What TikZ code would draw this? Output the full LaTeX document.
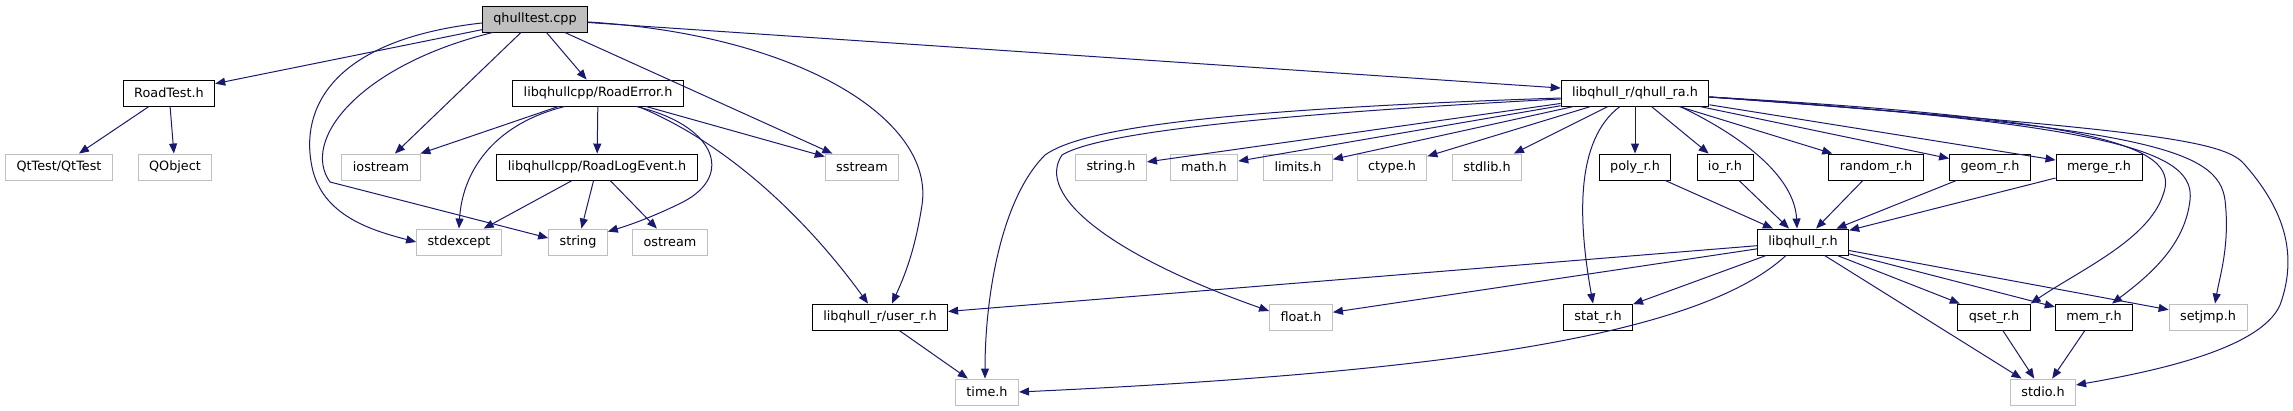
\documentclass[tikz,border=0pt]{standalone}
\usepackage{fontspec}
\setmainfont{DejaVu Sans}
\definecolor{edgeblue}{rgb}{0.098,0.098,0.439}
\definecolor{boxgrey}{rgb}{0.749,0.749,0.749}
\usetikzlibrary{arrows.meta}
\begin{document}
\begin{tikzpicture}[x=1pt,y=-1pt]
  \tikzstyle{file} = [draw=black,line width=0.9pt,fill=white,inner xsep=11pt,inner ysep=0pt,minimum height=26pt,font=\fontsize{12.8}{15}\selectfont]
  \tikzstyle{root} = [file,fill=boxgrey]
  \tikzstyle{sys} = [file,draw=boxgrey]
  \tikzstyle{dep} = [line width=1pt,draw=edgeblue,->,>={Triangle[length=10pt,width=8pt]}]
  \useasboundingbox (0,0) rectangle (2293,411);

  \node[root] (qhulltest) at (535,19) {qhulltest.cpp};
  \node[file] (roadtest) at (169,93) {RoadTest.h};
  \node[file] (roaderror) at (598,93) {libqhullcpp/RoadError.h};
  \node[file] (qhullra) at (1635,93) {libqhull\_r/qhull\_ra.h};
  \node[sys] (qttest) at (59,167) {QtTest/QtTest};
  \node[sys] (qobject) at (175,167) {QObject};
  \node[sys] (iostream) at (381,167) {iostream};
  \node[file] (roadlog) at (597,167) {libqhullcpp/RoadLogEvent.h};
  \node[sys] (sstream) at (862,167) {sstream};
  \node[sys] (stringh) at (1111,167) {string.h};
  \node[sys] (mathh) at (1204,167) {math.h};
  \node[sys] (limitsh) at (1298,167) {limits.h};
  \node[sys] (ctypeh) at (1392,167) {ctype.h};
  \node[sys] (stdlibh) at (1487,167) {stdlib.h};
  \node[file] (polyr) at (1635,167) {poly\_r.h};
  \node[file] (ior) at (1725,167) {io\_r.h};
  \node[file] (randomr) at (1876,167) {random\_r.h};
  \node[file] (geomr) at (1990,167) {geom\_r.h};
  \node[file] (merger) at (2099,167) {merge\_r.h};
  \node[sys] (stdexcept) at (459,242) {stdexcept};
  \node[sys] (string) at (578,242) {string};
  \node[sys] (ostream) at (670,242) {ostream};
  \node[file] (libqhullr) at (1803,242) {libqhull\_r.h};
  \node[file] (userr) at (880,317) {libqhull\_r/user\_r.h};
  \node[sys] (floath) at (1301,317) {float.h};
  \node[file] (statr) at (1598,317) {stat\_r.h};
  \node[file] (qsetr) at (1994,317) {qset\_r.h};
  \node[file] (memr) at (2094,317) {mem\_r.h};
  \node[sys] (setjmph) at (2208,317) {setjmp.h};
  \node[sys] (timeh) at (987,392) {time.h};
  \node[sys] (stdioh) at (2043,392) {stdio.h};

  \draw[dep] (qhulltest) -- (roadtest);
  \draw[dep] (qhulltest) -- (iostream);
  \draw[dep] (qhulltest) -- (roaderror);
  \draw[dep] (qhulltest) -- (sstream);
  \draw[dep] (qhulltest) -- (qhullra);
  \draw[dep] ([yshift=-3pt]qhulltest.east) .. controls (800,35) and (935,120) .. (922,205)
    .. controls (915,250) and (905,275) .. ([xshift=12pt]userr.north);
  \draw[dep] ([yshift=-4pt]qhulltest.west) .. controls (330,40) and (300,110) .. (312,167)
    .. controls (322,215) and (370,230) .. (stdexcept.west);
  \draw[dep] ([xshift=11pt]qhulltest.south west) .. controls (360,65) and (300,140) .. (330,182)
    -- ([yshift=4pt]string.west);

  \draw[dep] (roadtest) -- (qttest);
  \draw[dep] (roadtest) -- (qobject);

  \draw[dep] (roaderror) -- (iostream);
  \draw[dep] (roaderror) -- (roadlog);
  \draw[dep] (roaderror) -- (sstream);
  \draw[dep] ([xshift=-33pt]roaderror.south) .. controls (490,125) and (462,175) .. (stdexcept.north);
  \draw[dep] ([xshift=38pt]roaderror.south) .. controls (715,125) and (735,175) .. (683,202)
    .. controls (655,216) and (630,225) .. ([yshift=-3pt]string.north east);
  \draw[dep] ([xshift=40pt]roaderror.south) .. controls (720,140) and (800,210) .. ([xshift=-12pt]userr.north);

  \draw[dep] (roadlog) -- (stdexcept);
  \draw[dep] (roadlog) -- (string);
  \draw[dep] (roadlog) -- (ostream);

  \draw[dep] (userr) -- (timeh);

  \draw[dep] (qhullra) -- (stringh);
  \draw[dep] (qhullra) -- (mathh);
  \draw[dep] (qhullra) -- (limitsh);
  \draw[dep] (qhullra) -- (ctypeh);
  \draw[dep] (qhullra) -- (stdlibh);
  \draw[dep] (qhullra) -- (polyr);
  \draw[dep] (qhullra) -- (ior);
  \draw[dep] (qhullra) -- (randomr);
  \draw[dep] (qhullra) -- (geomr);
  \draw[dep] (qhullra) -- (merger);
  \draw[dep] ([yshift=-5pt]qhullra.west) .. controls (1200,110) and (1080,130) .. (1045,155)
    .. controls (1000,200) and (985,300) .. ([xshift=-2pt]timeh.north);
  \draw[dep] ([yshift=-6pt]qhullra.west) .. controls (1200,118) and (1090,138) .. (1062,155)
    .. controls (1035,195) and (1110,255) .. ([yshift=6pt]floath.west);
  \draw[dep] ([xshift=45pt]qhullra.south) .. controls (1760,145) and (1795,185) .. ([xshift=-6pt]libqhullr.north);
  \draw[dep] ([xshift=-15pt]qhullra.south) .. controls (1575,140) and (1578,220) .. ([xshift=-5pt]statr.north);
  \draw[dep] ([yshift=-4pt]qhullra.east) .. controls (2120,120) and (2180,150) .. (2163,195)
    .. controls (2148,240) and (2080,270) .. (qsetr.north east);
  \draw[dep] ([yshift=-4pt]qhullra.east) .. controls (2130,125) and (2195,155) .. (2190,200)
    .. controls (2185,245) and (2150,275) .. ([xshift=18pt]memr.north);
  \draw[dep] ([yshift=-4pt]qhullra.east) .. controls (2150,128) and (2218,150) .. (2225,200)
    .. controls (2230,245) and (2220,275) .. ([xshift=7pt]setjmph.north);
  \draw[dep] ([yshift=-4pt]qhullra.east) .. controls (2150,130) and (2225,140) .. (2245,165)
    .. controls (2280,205) and (2300,250) .. (2280,305)
    .. controls (2260,350) and (2150,372) .. ([yshift=7pt]stdioh.east);

  \draw[dep] (polyr) -- (libqhullr);
  \draw[dep] (ior) -- (libqhullr);
  \draw[dep] (randomr) -- (libqhullr);
  \draw[dep] (geomr) -- (libqhullr);
  \draw[dep] (merger) -- (libqhullr);

  \draw[dep] (libqhullr) -- (userr);
  \draw[dep] (libqhullr) -- (floath);
  \draw[dep] (libqhullr) -- (statr);
  \draw[dep] (libqhullr) -- (qsetr);
  \draw[dep] (libqhullr) -- (memr);
  \draw[dep] (libqhullr) -- (setjmph);
  \draw[dep] (libqhullr) -- (stdioh);
  \draw[dep] ([xshift=-17pt]libqhullr.south) .. controls (1700,335) and (1450,372) .. (timeh.east);

  \draw[dep] (qsetr) -- (stdioh);
  \draw[dep] (memr) -- (stdioh);
\end{tikzpicture}
\end{document}
